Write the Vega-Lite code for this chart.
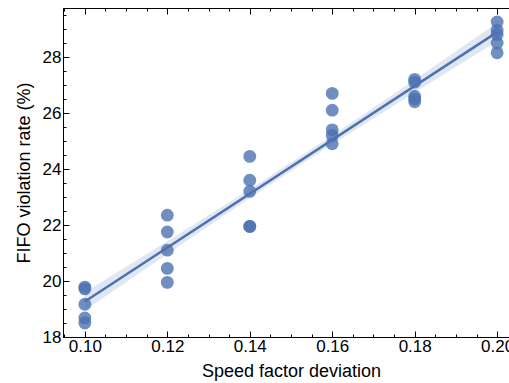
{
  "$schema": "https://vega.github.io/schema/vega-lite/v6.json",
  "width": 456,
  "height": 329,
  "autosize": "none",
  "padding": {"left": 63, "top": 8, "right": 0, "bottom": 46},
  "background": "white",
  "config": {
    "font": "Liberation Sans",
    "view": {"stroke": "black", "strokeWidth": 1},
    "axis": {
      "domainColor": "black",
      "tickColor": "black",
      "labelColor": "black",
      "titleColor": "black",
      "labelFont": "Liberation Sans",
      "titleFont": "Liberation Sans",
      "labelFontSize": 17,
      "titleFontSize": 18,
      "titleFontWeight": "normal",
      "grid": false
    }
  },
  "datasets": {
    "pts": [
      {"x": 0.10, "y": 19.78}, {"x": 0.10, "y": 19.72}, {"x": 0.10, "y": 19.17}, {"x": 0.10, "y": 18.68}, {"x": 0.10, "y": 18.5},
      {"x": 0.12, "y": 22.35}, {"x": 0.12, "y": 21.75}, {"x": 0.12, "y": 21.1}, {"x": 0.12, "y": 20.45}, {"x": 0.12, "y": 19.95},
      {"x": 0.14, "y": 24.45}, {"x": 0.14, "y": 23.6}, {"x": 0.14, "y": 23.2}, {"x": 0.14, "y": 21.95}, {"x": 0.14, "y": 21.95},
      {"x": 0.16, "y": 26.7}, {"x": 0.16, "y": 26.1}, {"x": 0.16, "y": 25.4}, {"x": 0.16, "y": 25.2}, {"x": 0.16, "y": 24.9},
      {"x": 0.18, "y": 27.2}, {"x": 0.18, "y": 27.1}, {"x": 0.18, "y": 26.6}, {"x": 0.18, "y": 26.5}, {"x": 0.18, "y": 26.4},
      {"x": 0.20, "y": 29.25}, {"x": 0.20, "y": 28.95}, {"x": 0.20, "y": 28.8}, {"x": 0.20, "y": 28.5}, {"x": 0.20, "y": 28.15}
    ],
    "band": [
      {"x": 0.10, "lo": 18.95, "hi": 19.6},
      {"x": 0.12, "lo": 20.96, "hi": 21.42},
      {"x": 0.14, "lo": 22.96, "hi": 23.28},
      {"x": 0.15, "lo": 23.93, "hi": 24.23},
      {"x": 0.16, "lo": 24.88, "hi": 25.2},
      {"x": 0.18, "lo": 26.73, "hi": 27.19},
      {"x": 0.20, "lo": 28.56, "hi": 29.22}
    ]
  },
  "resolve": {"axis": {"x": "independent", "y": "independent"}},
  "layer": [
    {
      "data": {"name": "band"},
      "mark": {"type": "area", "color": "#4C72B0", "opacity": 0.17},
      "encoding": {
        "x": {"field": "x", "type": "quantitative",
              "scale": {"domain": [0.0947, 0.2053], "nice": false, "zero": false},
              "axis": {"orient": "bottom", "title": "Speed factor deviation", "titlePadding": 5,
                       "labelFontSize": 17, "titleFontSize": 18,
                       "values": [0.095,0.10,0.105,0.11,0.115,0.12,0.125,0.13,0.135,0.14,0.145,0.15,0.155,0.16,0.165,0.17,0.175,0.18,0.185,0.19,0.195,0.20,0.205],
                       "labelExpr": "round(datum.value*200) % 4 == 0 ? format(datum.value, '.2f') : ''",
                       "tickSize": {"condition": {"test": "round(datum.value*200) % 4 == 0", "value": -6}, "value": -3},
                       "labelPadding": 7, "labelFlush": false, "labelOverlap": false}},
        "y": {"field": "lo", "type": "quantitative",
              "scale": {"domain": [18, 29.75], "nice": false, "zero": false},
              "axis": {"orient": "left", "title": "FIFO violation rate (%)", "titlePadding": 9,
                       "labelFontSize": 17, "titleFontSize": 18,
                       "values": [18,18.5,19,19.5,20,20.5,21,21.5,22,22.5,23,23.5,24,24.5,25,25.5,26,26.5,27,27.5,28,28.5,29,29.5],
                       "labelExpr": "round(datum.value*2) % 4 == 0 ? format(datum.value, 'd') : ''",
                       "tickSize": {"condition": {"test": "round(datum.value*2) % 4 == 0", "value": -6}, "value": -3},
                       "labelPadding": 8, "labelFlush": false, "labelOverlap": false}},
        "y2": {"field": "hi"}
      }
    },
    {
      "data": {"name": "pts"},
      "mark": {"type": "circle", "color": "#4C72B0", "opacity": 0.8, "size": 165},
      "encoding": {
        "x": {"field": "x", "type": "quantitative",
              "axis": {"orient": "top", "title": null, "labels": false, "domain": false,
                       "values": [0.095,0.10,0.105,0.11,0.115,0.12,0.125,0.13,0.135,0.14,0.145,0.15,0.155,0.16,0.165,0.17,0.175,0.18,0.185,0.19,0.195,0.20,0.205],
                       "tickSize": {"condition": {"test": "round(datum.value*200) % 4 == 0", "value": -6}, "value": -3}}},
        "y": {"field": "y", "type": "quantitative", "axis": null}
      }
    },
    {
      "data": {"name": "pts"},
      "transform": [{"regression": "y", "on": "x"}],
      "mark": {"type": "line", "color": "#4C72B0", "strokeWidth": 2.5},
      "encoding": {
        "x": {"field": "x", "type": "quantitative", "axis": null},
        "y": {"field": "y", "type": "quantitative", "axis": null}
      }
    }
  ]
}
